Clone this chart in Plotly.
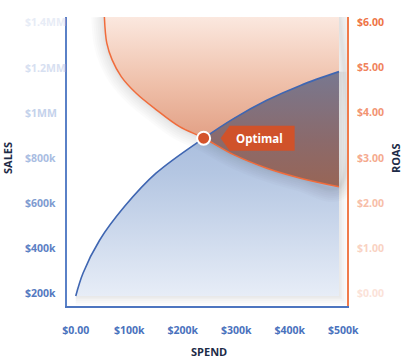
import plotly.graph_objects as go

# ---------------- data ----------------
SPEND_SALES_K = [0, 13.5, 44.5, 91, 150, 239, 295, 357, 420, 492]
SALES_K = [188, 289, 435, 584, 732, 887, 974, 1055, 1121, 1182]

SPEND_ROAS_K = [53.5, 58, 68, 85, 113, 150, 194, 239, 295, 357, 420, 492]
ROAS = [6.12, 5.54, 5.17, 4.80, 4.43, 4.07, 3.69, 3.44, 3.07, 2.77, 2.55, 2.36]

OPT_SPEND_K = 239
OPT_SALES_K = 887

X_TICKS = [0, 100, 200, 300, 400, 500]
X_LABELS = ["$0.00", "$100k", "$200k", "$300k", "$400k", "$500k"]
SALES_TICKS = [200, 400, 600, 800, 1000, 1200, 1400]
SALES_LABELS = ["$200k", "$400k", "$600k", "$800k", "$1MM", "$1.2MM", "$1.4MM"]
SALES_LABEL_COLORS = ["#5479c0", "#5c80c4", "#7e9bd0", "#a9bde2", "#c4d2eb", "#d7e0f1", "#e7ecf6"]
ROAS_TICKS = [0, 1, 2, 3, 4, 5, 6]
ROAS_LABELS = ["$0.00", "$1.00", "$2.00", "$3.00", "$4.00", "$5.00", "$6.00"]
ROAS_LABEL_COLORS = ["#fbe2d8", "#f9d2c2", "#f7bea8", "#f5aa8e", "#f29472", "#f0835c", "#ee7445"]

X_RANGE = [-16.4, 507]
Y_RANGE = [143.7, 1424]
Y2_RANGE = [-0.2816, 6.12]

FONT = "Open Sans"
BLUE = "#3f66b2"
ORANGE = "#f06c3c"
NAVY = "#1d2b47"


def sales_to_roas_units(v):
    return Y2_RANGE[0] + (v - Y_RANGE[0]) * (Y2_RANGE[1] - Y2_RANGE[0]) / (Y_RANGE[1] - Y_RANGE[0])


opt_i_s = SPEND_SALES_K.index(OPT_SPEND_K)
opt_i_r = SPEND_ROAS_K.index(OPT_SPEND_K)
ov_x = SPEND_SALES_K[opt_i_s:]
ov_lower = ROAS[opt_i_r:]
ov_upper = [sales_to_roas_units(v) for v in SALES_K[opt_i_s:]]

GLOW = [(26, 0.010), (22, 0.010), (18, 0.011), (14, 0.012), (10, 0.013), (6, 0.014), (3, 0.015)]

fig = go.Figure()

# soft shadow under the sales area
for w, op in GLOW[2:]:
    fig.add_trace(go.Scatter(x=[SPEND_SALES_K[0], SPEND_SALES_K[-1], SPEND_SALES_K[-1]],
                             y=[SALES_K[0], SALES_K[0], SALES_K[-1]], mode="lines", yaxis="y",
                             line=dict(color="black", width=w), opacity=op,
                             hoverinfo="skip", showlegend=False))

# sales area (below sales curve, down to its starting level)
fig.add_trace(go.Scatter(x=[SPEND_SALES_K[0], SPEND_SALES_K[-1]], y=[SALES_K[0], SALES_K[0]],
                         mode="lines", line=dict(width=0), yaxis="y", hoverinfo="skip", showlegend=False))
fig.add_trace(go.Scatter(x=SPEND_SALES_K, y=SALES_K, mode="lines", yaxis="y",
                         line=dict(width=0, shape="spline"), fill="tonexty",
                         fillgradient=dict(type="vertical", start=SALES_K[0], stop=SALES_K[-1],
                                           colorscale=[[0, "#e7edf7"], [0.55, "#b4c6e2"], [1, "#98b0d8"]]),
                         hoverinfo="skip", showlegend=False))

# soft glow around the ROAS area
for w, op in GLOW:
    fig.add_trace(go.Scatter(x=SPEND_ROAS_K + [SPEND_ROAS_K[-1]], y=ROAS + [Y2_RANGE[1]], mode="lines",
                             yaxis="y2", line=dict(color="black", width=w, shape="spline"), opacity=op,
                             hoverinfo="skip", showlegend=False))

# ROAS area (above ROAS curve up to the top)
fig.add_trace(go.Scatter(x=[SPEND_ROAS_K[0], SPEND_ROAS_K[-1]], y=[Y2_RANGE[1], Y2_RANGE[1]],
                         mode="lines", line=dict(width=0), yaxis="y2", hoverinfo="skip", showlegend=False))
fig.add_trace(go.Scatter(x=SPEND_ROAS_K, y=ROAS, mode="lines", yaxis="y2",
                         line=dict(width=0, shape="spline"), fill="tonexty",
                         fillgradient=dict(type="vertical", start=ROAS[opt_i_r], stop=Y2_RANGE[1],
                                           colorscale=[[0, "#e2a085"], [0.45, "#efc0aa"], [1, "#fbe8df"]]),
                         hoverinfo="skip", showlegend=False))

# overlap area
fig.add_trace(go.Scatter(x=ov_x, y=ov_lower, mode="lines", yaxis="y2",
                         line=dict(width=0, shape="spline"), hoverinfo="skip", showlegend=False))
fig.add_trace(go.Scatter(x=ov_x, y=ov_upper, mode="lines", yaxis="y2",
                         line=dict(width=0, shape="spline"), fill="tonexty",
                         fillgradient=dict(type="vertical", start=min(ov_lower), stop=max(ov_upper),
                                           colorscale=[[0, "#986556"], [0.4, "#8b6a6b"], [1, "#787890"]]),
                         hoverinfo="skip", showlegend=False))

# ROAS line
fig.add_trace(go.Scatter(x=SPEND_ROAS_K, y=ROAS, mode="lines", yaxis="y2",
                         line=dict(color=ORANGE, width=1.5, shape="spline"),
                         hoverinfo="skip", showlegend=False))
# Sales line (top layer)
fig.add_trace(go.Scatter(x=SPEND_SALES_K, y=SALES_K, mode="lines", yaxis="y3",
                         line=dict(color=BLUE, width=1.6, shape="spline"),
                         hoverinfo="skip", showlegend=False))
# optimal point
fig.add_trace(go.Scatter(x=[OPT_SPEND_K], y=[OPT_SALES_K], mode="markers", yaxis="y3",
                         marker=dict(size=13, color="#d4532b", line=dict(color="white", width=2)),
                         hoverinfo="skip", showlegend=False))

annotations = []
for v, t, c in zip(SALES_TICKS, SALES_LABELS, SALES_LABEL_COLORS):
    annotations.append(dict(xref="paper", yref="y", x=(23 - 67) / 280, y=v, text=t,
                            xanchor="left", yanchor="middle",
                            showarrow=False, font=dict(family=FONT, size=10.5, color=c, weight=700)))

annotations += [
    dict(xref="paper", yref="paper", x=(7 - 67) / 280, y=(306 - 158) / 289, text="SALES", textangle=-90,
         xanchor="center", yanchor="middle",
         showarrow=False, font=dict(family=FONT, size=11, color=NAVY, weight=700)),
    dict(xref="paper", yref="paper", x=(395 - 67) / 280, y=(306 - 158) / 289, text="ROAS", textangle=-90,
         xanchor="center", yanchor="middle",
         showarrow=False, font=dict(family=FONT, size=11, color=NAVY, weight=700)),
    dict(xref="paper", yref="paper", x=(209.3 - 67) / 280, y=(306 - 351) / 289, text="SPEND",
         xanchor="center", yanchor="middle",
         showarrow=False, font=dict(family=FONT, size=11, color=NAVY, weight=700)),
    dict(xref="x", yref="y", x=OPT_SPEND_K, y=OPT_SALES_K, xshift=56, text="Optimal",
         xanchor="center", yanchor="middle",
         showarrow=False, font=dict(family=FONT, size=11.5, color="white", weight=700)),
]

shapes = [
    dict(type="path", xref="x", yref="y", xsizemode="pixel", ysizemode="pixel",
         xanchor=OPT_SPEND_K, yanchor=OPT_SALES_K,
         path="M17,0 L26,12.5 L91,12.5 L91,-12.5 L26,-12.5 Z",
         fillcolor="#d0522a", line=dict(width=0), layer="above"),
]

fig.update_layout(
    template="none",
    width=403, height=358,
    margin=dict(l=67, r=56, t=17, b=52, autoexpand=False),
    paper_bgcolor="white", plot_bgcolor="white",
    showlegend=False,
    font=dict(family=FONT),
    xaxis=dict(range=X_RANGE, tickvals=X_TICKS, ticktext=X_LABELS, showgrid=False, zeroline=False,
               showline=True, linecolor="#4d75bf", linewidth=2, ticks="", automargin=False,
               ticklabelstandoff=13,
               tickfont=dict(family=FONT, size=10.5, color="#4a72bd", weight=700)),
    yaxis=dict(range=Y_RANGE, showgrid=False, zeroline=False, showline=True, linecolor="#5a81c7",
               linewidth=2, ticks="", showticklabels=False, automargin=False),
    yaxis2=dict(range=Y2_RANGE, overlaying="y", side="right", showgrid=False, zeroline=False,
                showline=True, linecolor="#f07a4a", linewidth=2, ticks="", automargin=False,
                tickvals=ROAS_TICKS,
                ticktext=[f"<span style='color:{c}'>{t}</span>" for t, c in zip(ROAS_LABELS, ROAS_LABEL_COLORS)],
                ticklabelstandoff=6,
                tickfont=dict(family=FONT, size=10.5, color="#f07a4a", weight=700)),
    yaxis3=dict(range=Y_RANGE, overlaying="y", visible=False, automargin=False),
    annotations=annotations,
    shapes=shapes,
)

fig.write_html("out.html", config={"displayModeBar": False},
               post_script="document.body.style.margin='0';document.body.style.overflow='hidden';")
